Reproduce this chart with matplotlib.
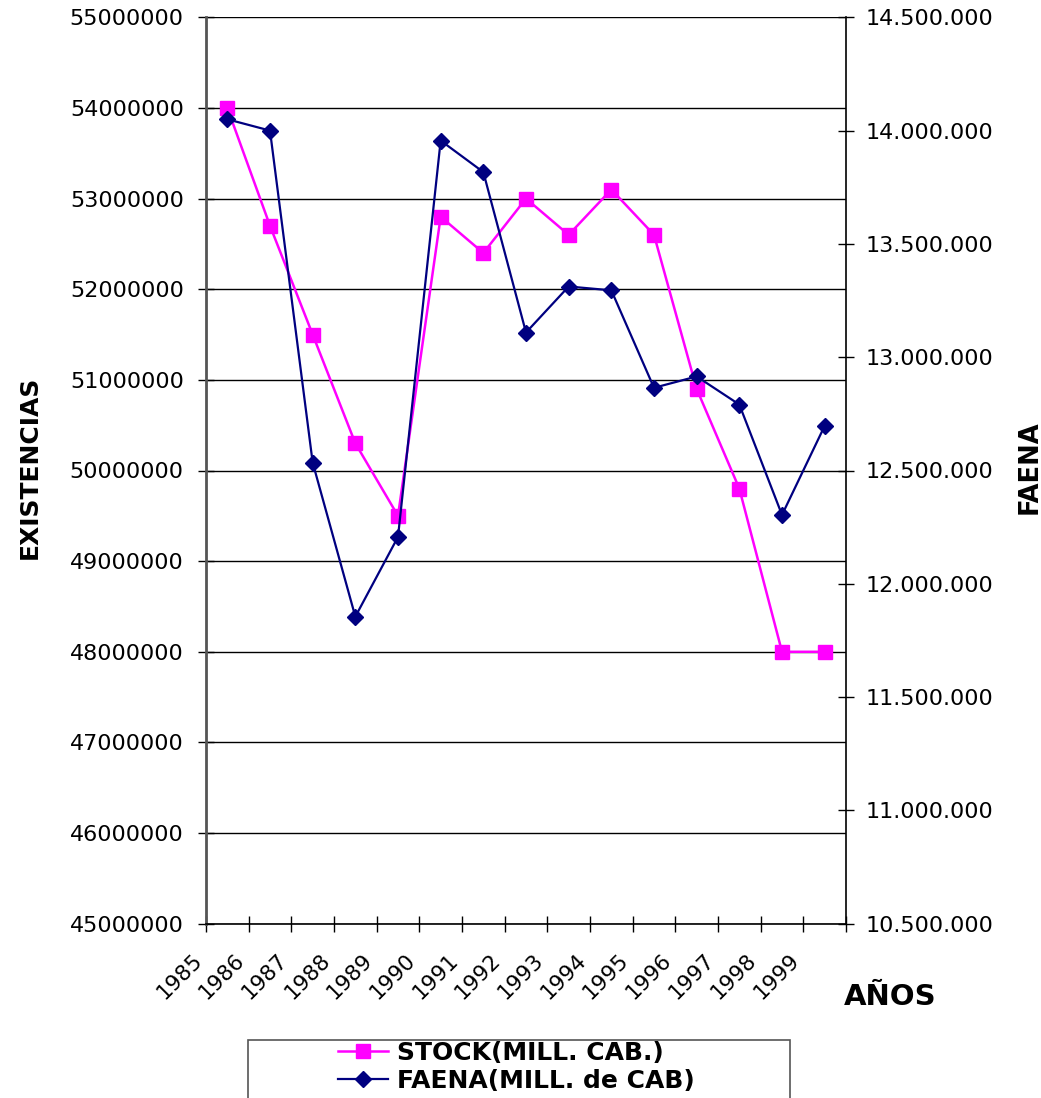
#!/usr/bin/python3

from matplotlib import pyplot as plt
from matplotlib.ticker import FuncFormatter
from matplotlib.patches import Rectangle

plt.rcParams['font.family'] = 'DejaVu Sans'

years = ['1985', '1986', '1987', '1988', '1989', '1990', '1991', '1992',
         '1993', '1994', '1995', '1996', '1997', '1998', '1999']

# existencias (cabezas)
stock = [54000000, 52700000, 51500000, 50300000, 49500000, 52800000, 52400000,
         53000000, 52600000, 53100000, 52600000, 50900000, 49800000, 48000000,
         48000000]

# faena (cabezas)
faena = [14050000, 14000000, 12535000, 11855000, 12207000, 13956000, 13817000,
         13109000, 13312000, 13295000, 12865000, 12915000, 12791000, 12304000,
         12697000]

left_ticks = list(range(45000000, 55000001, 1000000))
right_ticks = list(range(10500000, 14500001, 500000))

fig = plt.figure(figsize=(10.41, 10.98), dpi=100)
ax = fig.add_axes([206/1041, 1 - 923.7/1098, 640/1041, 906.4/1098])
ax2 = ax.twinx()

xpos = [i + 0.5 for i in range(len(years))]

ax.plot(xpos, stock, color='#FF00FF', lw=1.8, marker='s', markersize=9.5,
        label='STOCK(MILL. CAB.)')
ax2.plot(xpos, faena, color='#000080', lw=1.6, marker='D', markersize=8.5,
         label='FAENA(MILL. de CAB)')

ax.set_xlim(0, 15)
ax.set_ylim(45000000, 55000000)
ax2.set_ylim(10500000, 14500000)

ax.set_yticks(left_ticks)
ax.set_yticklabels([str(v) for v in left_ticks])
ax2.set_yticks(right_ticks)
ax2.yaxis.set_major_formatter(FuncFormatter(lambda v, p: '{:,}'.format(int(v)).replace(',', '.')))

ax.set_xticks(range(16))
ax.set_xticklabels(years + [''], rotation=45, ha='right')

ax.yaxis.grid(True, color='black', lw=1)
ax.set_axisbelow(True)

ax.tick_params(axis='y', direction='inout', length=12, width=1, labelsize=16, pad=10)
ax.tick_params(axis='x', direction='inout', length=12, width=1, labelsize=15.5, pad=13)
ax2.tick_params(axis='y', direction='inout', length=12, width=1, labelsize=16, pad=8)

for a in (ax, ax2):
    a.spines['top'].set_visible(False)
ax2.spines['left'].set_visible(False)
ax2.spines['bottom'].set_visible(False)
ax.spines['right'].set_visible(False)
ax.spines['left'].set_color('#555555')
ax.spines['left'].set_linewidth(2)
ax2.spines['right'].set_linewidth(1.2)
ax.spines['bottom'].set_linewidth(1.2)

fig.text(30/1041, 1 - 467/1098, 'EXISTENCIAS', rotation=90, ha='center', va='center',
         fontsize=18, fontweight='bold')
fig.text(1030/1041, 1 - 467/1098, 'FAENA', rotation=90, ha='center', va='center',
         fontsize=18.5, fontweight='bold')
fig.text(890/1041, 1 - 997/1098, 'AÑOS', ha='center', va='center',
         fontsize=21, fontweight='bold')

# legend box, cut by the bottom edge
fig.patches.append(Rectangle((248/1041, -0.011), 542/1041, 70/1098,
                             transform=fig.transFigure, fill=False,
                             edgecolor='#555555', lw=1.2, clip_on=False))

h1, l1 = ax.get_legend_handles_labels()
h2, l2 = ax2.get_legend_handles_labels()
fig.legend(h1 + h2, l1 + l2, loc='upper left', bbox_to_anchor=(338/1041, 1 - 1041/1098),
           frameon=False, borderpad=0, borderaxespad=0, handlelength=2.0,
           handletextpad=0.35, labelspacing=0.15,
           prop={'size': 18, 'weight': 'bold'})

plt.savefig('out.png', dpi=100)
